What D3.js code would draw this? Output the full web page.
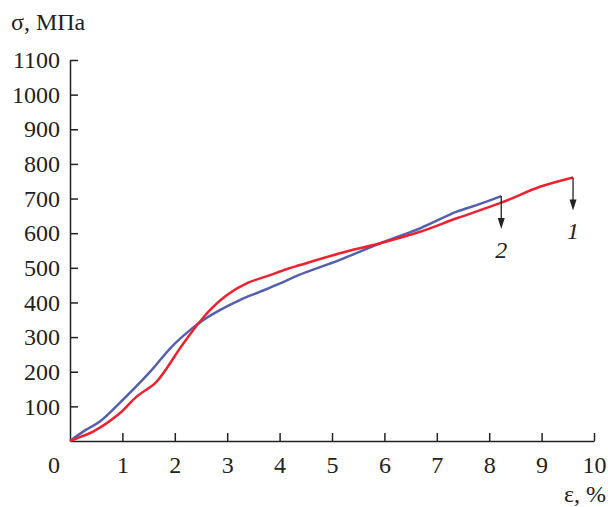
<!DOCTYPE html>
<html>
<head>
<meta charset="utf-8">
<script src="https://cdn.jsdelivr.net/npm/d3@7"></script>
<style>
  body { margin: 0; background: #fff; }
  svg text { font-family: 'Liberation Serif'; fill: #222; }
</style>
</head>
<body>
<svg class="chart"></svg>
<script>
// Data (strain %, stress MPa)
var strain1 = [0, 0.2, 0.44, 0.95, 1.27, 1.65, 2.10, 2.35, 2.67, 2.99, 3.37, 3.82, 4.13, 4.39, 5.15, 5.92, 6.68, 7.38, 8.23, 8.97, 9.6];
var stress1 = [0, 12, 27, 80, 128, 171, 268, 320, 378, 421, 455, 479, 496, 508, 542, 571, 604, 643, 688, 734, 761];

var strain2 = [0, 0.3, 0.57, 0.95, 1.5, 1.94, 2.29, 2.54, 2.86, 3.24, 3.63, 4.01, 4.36, 5.15, 5.92, 6.68, 7.38, 7.8, 8.23];
var stress2 = [0, 32, 56, 110, 195, 272, 320, 349, 378, 407, 431, 455, 479, 523, 571, 614, 662, 683, 707];

var xTicks = [1, 2, 3, 4, 5, 6, 7, 8, 9, 10];
var yTicks = [100, 200, 300, 400, 500, 600, 700, 800, 900, 1000, 1100];
var seriesNames = ["1", "2"];

var fontFam = "'Liberation Serif'";

// Total dimensions
var w = 608,
    h = 507;

var svg = d3.select(".chart")
    .attr("width", w)
    .attr("height", h);

var margin = { top: 60, right: 14, bottom: 66, left: 70 },
    width = w - margin.left - margin.right,
    height = h - margin.top - margin.bottom,
    g = svg.append("g").attr("transform", "translate(" + margin.left + "," + margin.top + ")");

var xScale = d3.scaleLinear().domain([0, 10]).range([0, width]);
var yScale = d3.scaleLinear().domain([0, 1100]).range([height, 0]);

// Axes
var xAxis = d3.axisBottom(xScale).tickValues(xTicks).tickFormat(d3.format("d"))
    .tickSize(-8).tickSizeOuter(0).tickPadding(15);
var yAxis = d3.axisLeft(yScale).tickValues(yTicks).tickFormat(d3.format("d"))
    .tickSize(-8).tickSizeOuter(0).tickPadding(10);

var gx = g.append("g")
    .attr("transform", "translate(0," + height + ")")
    .call(xAxis);
var gy = g.append("g").call(yAxis);

[gx, gy].forEach(function(a) {
    a.attr("font-family", null).attr("font-size", null);
    a.selectAll("path, line").attr("stroke", "#222").attr("stroke-width", 1.5);
    a.selectAll("text")
        .attr("fill", "#222")
        .style("font-family", fontFam)
        .style("font-size", "24px");
});

g.append("text")
    .attr("x", xScale(0) - 10)
    .attr("y", height + 15)
    .attr("dy", "0.71em")
    .attr("text-anchor", "end")
    .style("font-family", fontFam)
    .style("font-size", "24px")
    .text("0");

// Curves
var line = d3.line()
    .x(function(d) { return xScale(d[0]); })
    .y(function(d) { return yScale(d[1]); })
    .curve(d3.curveCatmullRom.alpha(0.5));

var data1 = strain1.map(function(s, i) { return [s, stress1[i]]; });
var data2 = strain2.map(function(s, i) { return [s, stress2[i]]; });

g.append("path")
    .datum(data2)
    .attr("fill", "none")
    .attr("stroke", "#5560ad")
    .attr("stroke-width", 2.5)
    .attr("stroke-linejoin", "round")
    .attr("d", line);

g.append("path")
    .datum(data1)
    .attr("fill", "none")
    .attr("stroke", "#ec2230")
    .attr("stroke-width", 2.5)
    .attr("stroke-linejoin", "round")
    .attr("d", line);

// Fracture arrows with curve numbers
var ends = [data1[data1.length - 1], data2[data2.length - 1]];
ends.forEach(function(d, i) {
    var x = xScale(d[0]), y = yScale(d[1]);
    var len = 33;
    g.append("line")
        .attr("x1", x).attr("y1", y)
        .attr("x2", x).attr("y2", y + len - 8)
        .attr("stroke", "#222")
        .attr("stroke-width", 1.3);
    g.append("path")
        .attr("d", "M" + (x - 3.5) + "," + (y + len - 11) + "L" + (x + 3.5) + "," + (y + len - 11) + "L" + x + "," + (y + len) + "Z")
        .attr("fill", "#222");
    g.append("text")
        .attr("x", x)
        .attr("y", y + len + 29)
        .attr("text-anchor", "middle")
        .style("font-family", fontFam)
        .style("font-size", "24px")
        .style("font-style", "italic")
        .text(seriesNames[i]);
});

// Axis titles
svg.append("text")
    .attr("x", 11)
    .attr("y", 30)
    .style("font-family", fontFam)
    .style("font-size", "24px")
    .text("σ, МПа");

svg.append("text")
    .attr("x", 606)
    .attr("y", 502)
    .attr("text-anchor", "end")
    .style("font-family", fontFam)
    .style("font-size", "24px")
    .text("ε, %");
</script>
</body>
</html>
